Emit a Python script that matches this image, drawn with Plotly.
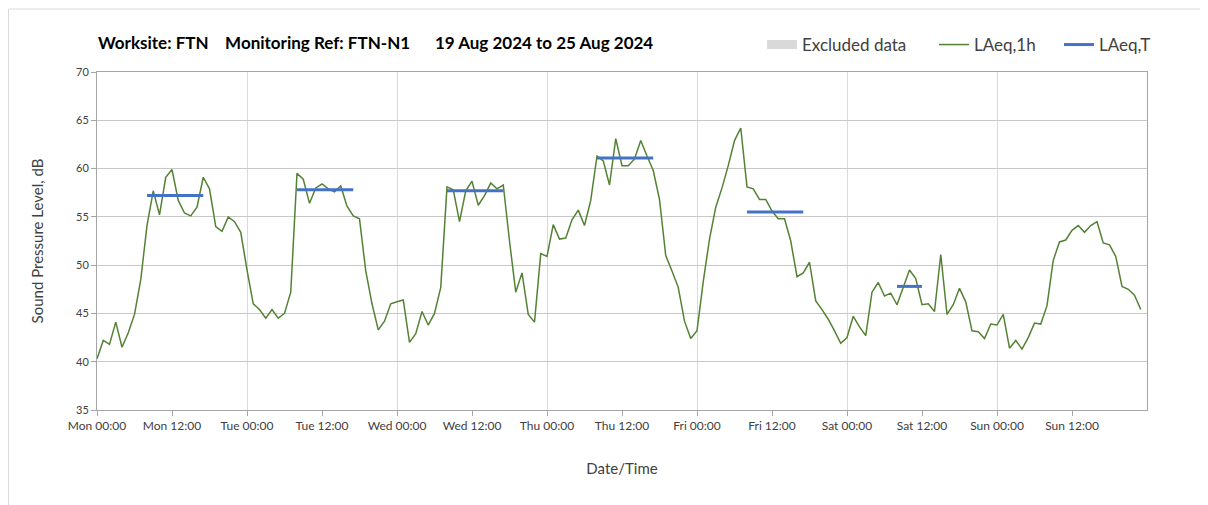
import plotly.graph_objects as go

# ---------------- data ----------------
hours = list(range(168))  # hourly index from Mon 00:00

laeq_1h = [
    # Mon
    40.3, 42.2, 41.8, 44.1, 41.5, 43.0, 44.9, 48.5, 54.1, 57.7, 55.2, 59.1,
    59.9, 56.7, 55.4, 55.1, 56.0, 59.1, 57.9, 54.0, 53.5, 55.0, 54.5, 53.4,
    # Tue
    49.5, 46.0, 45.4, 44.5, 45.4, 44.5, 45.0, 47.2, 59.5, 58.9, 56.4, 58.0,
    58.4, 57.9, 57.6, 58.2, 56.1, 55.1, 54.8, 49.4, 46.0, 43.3, 44.2, 46.0,
    # Wed
    46.2, 46.4, 42.0, 42.9, 45.2, 43.8, 45.0, 47.7, 58.1, 57.8, 54.5, 57.7,
    58.7, 56.2, 57.2, 58.5, 57.9, 58.3, 52.5, 47.2, 49.2, 44.9, 44.1, 51.2,
    # Thu
    50.9, 54.2, 52.7, 52.8, 54.7, 55.7, 54.1, 56.7, 61.3, 60.8, 58.3, 63.1,
    60.3, 60.3, 61.0, 62.9, 61.3, 59.8, 56.8, 51.0, 49.4, 47.7, 44.2, 42.4,
    # Fri
    43.2, 48.3, 52.7, 56.0, 58.0, 60.3, 62.9, 64.2, 58.1, 57.9, 56.8, 56.8,
    55.6, 54.8, 54.8, 52.5, 48.8, 49.2, 50.3, 46.3, 45.4, 44.4, 43.2, 41.9,
    # Sat
    42.5, 44.7, 43.6, 42.7, 47.2, 48.2, 46.8, 47.1, 45.9, 47.7, 49.5, 48.6,
    45.9, 46.0, 45.2, 51.1, 44.9, 45.9, 47.6, 46.2, 43.2, 43.1, 42.4, 43.9,
    # Sun
    43.8, 44.9, 41.4, 42.2, 41.3, 42.5, 44.0, 43.9, 45.8, 50.5, 52.4, 52.6,
    53.6, 54.1, 53.4, 54.1, 54.5, 52.3, 52.1, 50.9, 47.8, 47.5, 46.9, 45.4,
]

# LAeq,T periods (start hour, end hour) and values
period_start = [8, 32, 56, 80, 104, 128]
period_end = [17, 41, 65, 89, 113, 132]
laeq_t = [57.2, 57.8, 57.7, 61.1, 55.5, 47.8]

day_names = ["Mon", "Tue", "Wed", "Thu", "Fri", "Sat", "Sun"]
tick_hours = list(range(0, 168, 12))
tick_labels = [f"{day_names[h // 24]} {h % 24:02d}:00" for h in tick_hours]

title_text = ("Worksite: FTN\u00a0\u00a0\u00a0\u00a0Monitoring Ref: FTN-N1"
              "\u00a0\u00a0\u00a0\u00a0\u00a0\u00a019 Aug 2024 to 25 Aug 2024")

# ---------------- figure ----------------
FONT = "Lato"
W, H = 1200, 497          # page body adds an 8px offset
ML, MR, MT, MB = 89, 61, 64, 95
PW, PH = W - ML - MR, H - MT - MB
OX, OY = 8 + ML, 8 + MT   # absolute plot origin on the page


def px(xabs):
    return (xabs - OX) / PW


def py(yabs):
    return (OY + PH - yabs) / PH


tx, ty = [], []
for s, e, v in zip(period_start, period_end, laeq_t):
    tx += [s, e, None]
    ty += [v, v, None]

fig = go.Figure()
fig.add_trace(go.Scatter(x=[None], y=[None], mode="lines", name="Excluded data",
                         line=dict(color="#d9d9d9", width=9),
                         showlegend=True, legend="legend"))
fig.add_trace(go.Scatter(x=hours, y=laeq_1h, mode="lines", name="LAeq,1h",
                         line=dict(color="#548235", width=1.5), legend="legend2"))
fig.add_trace(go.Scatter(x=tx, y=ty, mode="lines", name="LAeq,T",
                         line=dict(color="#4472C4", width=3), legend="legend3"))

leg_common = dict(orientation="h", xanchor="left", yanchor="middle", y=py(45),
                  font=dict(size=17, color="#404040"), bgcolor="rgba(0,0,0,0)")

fig.update_layout(
    width=W, height=H,
    margin=dict(l=ML, r=MR, t=MT, b=MB),
    paper_bgcolor="white", plot_bgcolor="white",
    font=dict(family=FONT, color="#404040"),
    showlegend=True,
    legend=dict(x=px(762), **leg_common),
    legend2=dict(x=px(934), **leg_common),
    legend3=dict(x=px(1059), **leg_common),
    annotations=[dict(
        text=title_text,
        xref="paper", yref="paper", x=px(96), y=py(43),
        xanchor="left", yanchor="middle", showarrow=False,
        font=dict(family=FONT, size=17, color="#000000", weight="bold"))],
    shapes=[dict(type="rect", xref="paper", yref="paper",
                 x0=px(8.5), x1=px(1202), y0=py(520), y1=py(9),
                 line=dict(color="#d9d9d9", width=1), layer="below")],
)

fig.update_xaxes(
    range=[0, 168],
    tickmode="array", tickvals=tick_hours, ticktext=tick_labels,
    ticks="outside", ticklen=5, tickcolor="#a6a6a6",
    tickfont=dict(size=12, color="#404040"),
    showgrid=False,
    minor=dict(dtick=24, tick0=0, showgrid=True, gridcolor="#dadada",
               gridwidth=1, ticks=""),
    showline=True, linecolor="#a6a6a6", linewidth=1, mirror=True,
    zeroline=False,
    title=dict(text="Date/Time", font=dict(size=15, color="#404040"), standoff=31),
)
fig.update_yaxes(
    range=[35, 70], dtick=5, tick0=35,
    ticks="outside", ticklen=5, tickcolor="#a6a6a6",
    tickfont=dict(size=11, color="#404040"),
    showgrid=True, gridcolor="#c8c8c8", gridwidth=1,
    showline=True, linecolor="#a6a6a6", linewidth=1, mirror=True,
    zeroline=False,
    title=dict(text="Sound Pressure Level, dB", font=dict(size=15, color="#404040"),
               standoff=28),
)

fig.write_html("out.html")
